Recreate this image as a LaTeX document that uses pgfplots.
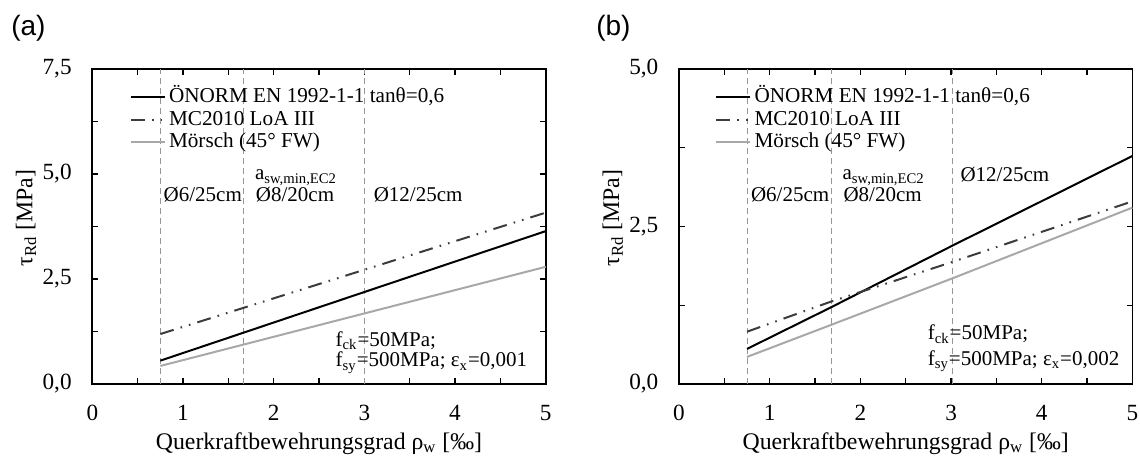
\documentclass[border=0pt,11pt]{standalone}
\usepackage{fontspec}
\setmainfont{Liberation Serif}
\newfontfamily\arial{Liberation Sans}
\usepackage{pgfplots}
\pgfplotsset{compat=1.18}

\definecolor{mcgray}{RGB}{60,60,60}
\definecolor{moegray}{RGB}{168,168,168}
\definecolor{refgray}{RGB}{150,150,150}

\newcommand{\sub}[1]{\textsubscript{#1}}

\tikzset{ann/.style={inner sep=0pt, anchor=base west, font=\fontsize{10.5}{12.5}\selectfont}}

\pgfplotsset{
  panel/.style={
    scale only axis, width=226.7pt, height=157.5pt,
    xmin=0, xmax=5, ymin=0,
    xtick={0,...,5}, minor x tick num=1, minor y tick num=1,
    tick align=inside, major tick length=2.8pt, minor tick length=2.8pt,
    tick style={black, line width=0.6pt},
    axis line style={black, line width=0.85pt},
    /pgf/number format/assume math mode=true,
    tick label style={font=\fontsize{11.6}{13.5}\selectfont},
    label style={font=\fontsize{11.9}{14}\selectfont},
    yticklabel style={/pgf/number format/fixed, /pgf/number format/fixed zerofill,
      /pgf/number format/precision=1, /pgf/number format/use comma, xshift=-6.5pt},
    xticklabel style={yshift=-6.6pt},
    xlabel={Querkraftbewehrungsgrad ρ\sub{w} [‰]},
    ylabel={τ\sub{Rd} [MPa]},
    xlabel style={at={(axis description cs:0.5,-0.189)}, anchor=center},
    ylabel style={at={(axis description cs:-0.146,0.527)}, anchor=center},
    legend cell align=left,
    legend style={draw=none, fill=none, inner sep=0pt, column sep=1.6pt, row sep=-0.25pt,
      font=\fontsize{10.6}{12}\selectfont,
      nodes={inner xsep=0pt, inner ysep=1pt, text height=7.5pt, text depth=2pt}},
    clip=false,
  },
  vline/.style={refgray, densely dashed, line width=0.45pt, forget plot},
  onorm/.style={black, line width=1pt},
  mc/.style={mcgray, line width=1pt,
    dash pattern=on 7pt off 3.6pt on 0.8pt off 3.6pt on 0.8pt off 3.6pt},
  moersch/.style={moegray, line width=1pt},
}

\begin{document}
\begin{tikzpicture}
\useasboundingbox (0,0) rectangle (570pt,228pt);

\node[font=\arial\fontsize{14}{16}\selectfont] at (14.2pt,213.8pt) {(a)};
\node[font=\arial\fontsize{14}{16}\selectfont] at (306.7pt,213.8pt) {(b)};

% (a) eps_x = 0,001
\begin{axis}[panel, at={(46.15pt,36pt)}, anchor=south west,
    ymax=7.5, ytick={0,2.5,5,7.5},
    legend style={at={(rel axis cs:0.0816,0.948)}, anchor=north west}]
\addplot[vline] coordinates {(0.75,0) (0.75,7.5)};
\addplot[vline] coordinates {(1.67,0) (1.67,7.5)};
\addplot[vline] coordinates {(3.0,0) (3.0,7.5)};
\addplot[onorm] coordinates {(0.75,0.556) (1.67,1.224) (3.0,2.19) (5,3.64)};
\addlegendentry{ÖNORM EN 1992-1-1 tanθ=0,6}
\addplot[mc] coordinates {(0.75,1.19) (1.67,1.815) (3.0,2.72) (5,4.08)};
\addlegendentry{MC2010 LoA III}
\addplot[moersch] coordinates {(0.75,0.43) (1.67,0.94) (3.0,1.68) (5,2.79)};
\addlegendentry{Mörsch (45° FW)}
\node[ann] at (axis cs:0.783,4.34) {Ø6/25cm};
\node[ann] at (axis cs:1.79,4.86) {a\sub{sw,min,EC2}};
\node[ann] at (axis cs:1.80,4.34) {Ø8/20cm};
\node[ann] at (axis cs:3.10,4.34) {Ø12/25cm};
\node[ann] at (axis cs:2.68,0.89) {f\sub{ck}=50MPa;};
\node[ann] at (axis cs:2.68,0.41) {f\sub{sy}=500MPa; ε\sub{x}=0,001};
\end{axis}

% (b) eps_x = 0,002
\begin{axis}[panel, at={(339.5pt,36pt)}, anchor=south west,
    ymax=5, ytick={0,2.5,5},
    legend style={at={(rel axis cs:0.079,0.948)}, anchor=north west}]
\addplot[vline] coordinates {(0.75,0) (0.75,5)};
\addplot[vline] coordinates {(1.68,0) (1.68,5)};
\addplot[vline] coordinates {(3.02,0) (3.02,5)};
\addplot[onorm] coordinates {(0.75,0.557) (1.68,1.22) (3.02,2.2) (5,3.62)};
\addlegendentry{ÖNORM EN 1992-1-1 tanθ=0,6}
\addplot[mc] coordinates {(0.75,0.83) (1.68,1.31) (2.0,1.46) (3.02,1.94) (5,2.90)};
\addlegendentry{MC2010 LoA III}
\addplot[moersch] coordinates {(0.75,0.43) (1.68,0.94) (3.02,1.68) (5,2.80)};
\addlegendentry{Mörsch (45° FW)}
\node[ann] at (axis cs:0.79,2.89) {Ø6/25cm};
\node[ann] at (axis cs:1.80,3.24) {a\sub{sw,min,EC2}};
\node[ann] at (axis cs:1.81,2.89) {Ø8/20cm};
\node[ann] at (axis cs:3.10,3.22) {Ø12/25cm};
\node[ann] at (axis cs:2.74,0.70) {f\sub{ck}=50MPa;};
\node[ann] at (axis cs:2.74,0.30) {f\sub{sy}=500MPa; ε\sub{x}=0,002};
\end{axis}
\end{tikzpicture}
\end{document}
